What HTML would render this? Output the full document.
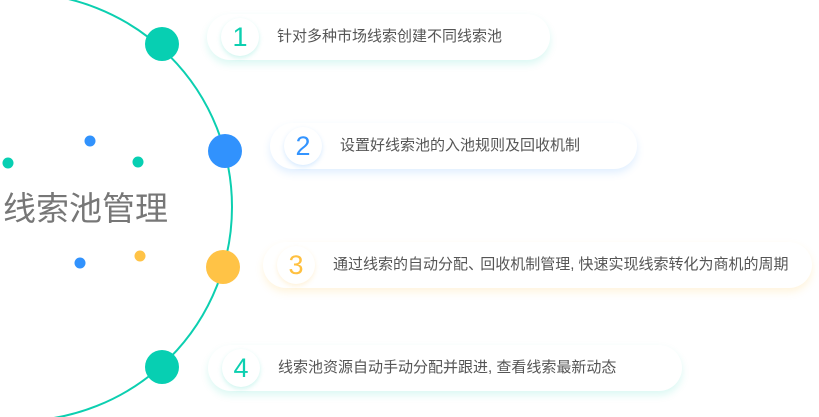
<!DOCTYPE html>
<html><head><meta charset="utf-8"><style>
body{margin:0;width:819px;height:417px;overflow:hidden;background:#fff;font-family:"Liberation Sans","Noto Sans CJK SC",sans-serif;position:relative}
.card{position:absolute;height:46px;border-radius:23px;background:#fff;}
.num{position:absolute;left:14px;top:4px;width:38px;height:38px;border-radius:50%;background:#fff;font-size:27px;line-height:38px;text-align:center;font-family:"Liberation Sans",sans-serif}
.t{position:absolute;left:70px;top:0;line-height:46px;font-size:15px;color:#555;white-space:nowrap}
.title{position:absolute;left:3px;top:182px;font-size:33px;color:#777;letter-spacing:0px}
</style></head><body>
<svg width="819" height="417" style="position:absolute;left:0;top:0">
<circle cx="18" cy="207" r="214" fill="none" stroke="#0ccfb0" stroke-width="2"/>
<circle cx="162" cy="44" r="17" fill="#07cfb2"/>
<circle cx="225" cy="151" r="17" fill="#3192fd"/>
<circle cx="223" cy="267" r="17" fill="#ffc346"/>
<circle cx="162" cy="367" r="17" fill="#07cfb2"/>
<circle cx="8" cy="163" r="5.5" fill="#07cfb2"/>
<circle cx="90" cy="141" r="5.5" fill="#3192fd"/>
<circle cx="138" cy="162" r="5.5" fill="#07cfb2"/>
<circle cx="80" cy="263" r="5.5" fill="#3192fd"/>
<circle cx="140" cy="256" r="5.5" fill="#ffc346"/>
</svg>
<div class="title">线索池管理</div>
<div class="card" style="left:207px;top:14px;width:343px;box-shadow:0 4px 8px rgba(12,207,176,0.15)"><div class="num" style="color:#0ccfb0;box-shadow:0 2px 5px rgba(12,207,176,0.2)">1</div><div class="t">针对多种市场线索创建不同线索池</div></div>
<div class="card" style="left:270px;top:123px;width:367px;box-shadow:0 4px 8px rgba(51,148,255,0.15)"><div class="num" style="color:#3394ff;box-shadow:0 2px 5px rgba(51,148,255,0.2)">2</div><div class="t">设置好线索池的入池规则及回收机制</div></div>
<div class="card" style="left:263px;top:242px;width:549px;box-shadow:0 4px 8px rgba(255,192,64,0.18)"><div class="num" style="color:#ffc040;box-shadow:0 2px 5px rgba(255,192,64,0.2)">3</div><div class="t">通过线索的自动分配<span style="letter-spacing:-7px">、</span> 回收机制管理<span style="font-family:'Liberation Sans'">, </span>快速实现线索转化为商机的周期</div></div>
<div class="card" style="left:208px;top:345px;width:474px;box-shadow:0 4px 8px rgba(12,207,176,0.15)"><div class="num" style="color:#0ccfb0;box-shadow:0 2px 5px rgba(12,207,176,0.2)">4</div><div class="t">线索池资源自动手动分配并跟进<span style="font-family:'Liberation Sans'">, </span>查看线索最新动态</div></div>
</body></html>
